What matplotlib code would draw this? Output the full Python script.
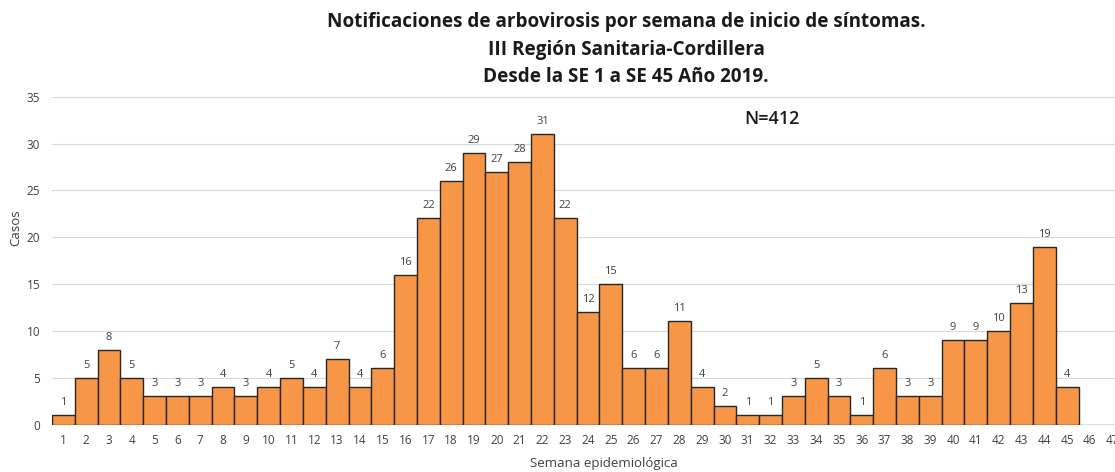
import matplotlib
matplotlib.use("Agg")
import matplotlib.pyplot as plt

plt.rcParams['font.family'] = ['Open Sans', 'DejaVu Sans']

semanas = list(range(1, 48))
casos = [1, 5, 8, 5, 3, 3, 3, 4, 3, 4, 5, 4, 7, 4, 6, 16, 22, 26, 29, 27,
         28, 31, 22, 12, 15, 6, 6, 11, 4, 2, 1, 1, 3, 5, 3, 1, 6, 3, 3, 9,
         9, 10, 13, 19, 4]
titulo = ["Notificaciones de arbovirosis por semana de inicio de síntomas.",
          "III Región Sanitaria-Cordillera",
          "Desde la SE 1 a SE 45 Año 2019."]
total = "N=412"

W, H = 1115, 472
fig = plt.figure(figsize=(W / 100, H / 100), dpi=100)
ax = fig.add_axes([52 / W, 1 - 424.5 / H, 1 - 52 / W, (424.5 - 96.7) / H])

x = semanas[:len(casos)]
ax.bar(x, casos, width=1.0, color='#F79646', edgecolor='#262626', linewidth=1.0, zorder=3)
for xi, v in zip(x, casos):
    ax.text(xi, v + 0.75, str(v), ha='center', va='bottom', fontsize=8, color='#404040')

ax.set_xlim(0.5, 47.1)
ax.set_ylim(0, 35)
ax.set_xticks(semanas)
ax.set_yticks(range(0, 36, 5))
ax.tick_params(axis='both', length=0, labelsize=8.5, colors='#404040')
ax.tick_params(axis='x', pad=6.5)
ax.tick_params(axis='y', pad=8.5)
ax.grid(axis='y', color='#d9d9d9', linewidth=0.8, zorder=0)
for s in ax.spines.values():
    s.set_visible(False)
ax.axhline(0, color='#d9d9d9', linewidth=1.2, zorder=2)

ax.set_xlabel('Semana epidemiológica', fontsize=9.5, color='#404040')
ax.set_ylabel('Casos', fontsize=9.5, color='#404040')
ax.xaxis.set_label_coords((604 - 52) / 1063, -(464 - 424.5) / 327.8)
ax.yaxis.set_label_coords((16 - 52) / 1063, (424.5 - 228) / 327.8)
ax.xaxis.label.set_va('center')
ax.yaxis.label.set_va('center')

# title lines, size fitted so the first line spans ~593 px
centro = 626
bases = [27, 55, 82]
fs = 13
lineas = []
for linea, by in zip(titulo, bases):
    lineas.append(fig.text(centro / W, 1 - by / H, linea, ha='center', va='baseline',
                           fontsize=fs, fontweight='bold', color='#1a1a1a'))
r = fig.canvas.get_renderer()
fs = fs * 593 / lineas[0].get_window_extent(r).width
for t in lineas:
    t.set_fontsize(fs)

fig.text(772 / W, 1 - 119 / H, total, ha='center', va='center',
         fontsize=13, fontweight='semibold', color='#1a1a1a')

fig.savefig('out.png', dpi=100)
